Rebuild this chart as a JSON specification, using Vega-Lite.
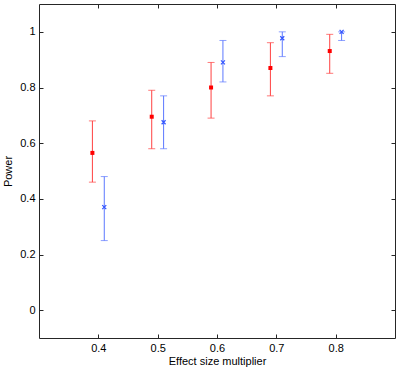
{
  "$schema": "https://vega.github.io/schema/vega-lite/v6.json",
  "width": 356,
  "height": 334,
  "autosize": {"type": "none"},
  "padding": {"left": 39, "top": 4, "right": 4, "bottom": 33},
  "background": "white",
  "config": {
    "view": {"stroke": "#262626", "strokeWidth": 1},
    "font": "Liberation Sans",
    "axis": {
      "grid": false,
      "domainColor": "#262626",
      "tickColor": "#262626",
      "tickSize": -4,
      "labelFont": "Liberation Sans",
      "titleFont": "Liberation Sans",
      "labelFontSize": 11,
      "titleFontSize": 11,
      "labelColor": "#000",
      "titleColor": "#000",
      "titleFontWeight": "normal"
    }
  },
  "data": {
    "values": [
      {"x": 0.39, "y": 0.565, "lo": 0.46, "hi": 0.68, "g": "a"},
      {"x": 0.41, "y": 0.37, "lo": 0.25, "hi": 0.48, "g": "b"},
      {"x": 0.49, "y": 0.695, "lo": 0.58, "hi": 0.79, "g": "a"},
      {"x": 0.51, "y": 0.675, "lo": 0.58, "hi": 0.77, "g": "b"},
      {"x": 0.59, "y": 0.80, "lo": 0.69, "hi": 0.89, "g": "a"},
      {"x": 0.61, "y": 0.89, "lo": 0.82, "hi": 0.969, "g": "b"},
      {"x": 0.69, "y": 0.87, "lo": 0.77, "hi": 0.961, "g": "a"},
      {"x": 0.71, "y": 0.977, "lo": 0.911, "hi": 1.0, "g": "b"},
      {"x": 0.79, "y": 0.931, "lo": 0.851, "hi": 0.991, "g": "a"},
      {"x": 0.81, "y": 1.0, "lo": 0.969, "hi": 1.0, "g": "b"}
    ]
  },
  "resolve": {"axis": {"x": "independent", "y": "independent"}},
  "layer": [
    {
      "layer": [
        {
          "mark": {"type": "rule", "strokeWidth": 1},
          "encoding": {
            "x": {"field": "x", "type": "quantitative", "scale": {"domain": [0.3, 0.9], "nice": false, "zero": false},
                  "axis": {"values": [0.4, 0.5, 0.6, 0.7, 0.8], "format": "~g", "title": "Effect size multiplier", "labelPadding": 8, "titlePadding": 2, "domain": false}},
            "y": {"field": "lo", "type": "quantitative", "scale": {"domain": [-0.1, 1.1], "nice": false, "zero": false},
                  "axis": {"values": [0, 0.2, 0.4, 0.6, 0.8, 1], "format": "~g", "title": "Power", "labelPadding": 8, "titlePadding": 6, "domain": false}},
            "y2": {"field": "hi"},
            "color": {"field": "g", "type": "nominal", "scale": {"domain": ["a", "b"], "range": ["#ff4040", "#5c78ff"]}, "legend": null}
          }
        },
        {
          "mark": {"type": "tick", "orient": "horizontal", "size": 7, "thickness": 1},
          "encoding": {
            "x": {"field": "x", "type": "quantitative"},
            "y": {"field": "lo", "type": "quantitative"},
            "color": {"field": "g", "type": "nominal", "legend": null}
          }
        },
        {
          "mark": {"type": "tick", "orient": "horizontal", "size": 7, "thickness": 1},
          "encoding": {
            "x": {"field": "x", "type": "quantitative"},
            "y": {"field": "hi", "type": "quantitative"},
            "color": {"field": "g", "type": "nominal", "legend": null}
          }
        },
        {
          "transform": [{"filter": "datum.g == 'a'"}],
          "mark": {"type": "point", "shape": "square", "filled": true, "size": 16, "color": "#ff0000", "opacity": 1},
          "encoding": {
            "x": {"field": "x", "type": "quantitative"},
            "y": {"field": "y", "type": "quantitative"}
          }
        },
        {
          "transform": [{"filter": "datum.g == 'b'"}],
          "mark": {"type": "point", "shape": "M-1,-1L1,1M-1,1L1,-1", "filled": false, "size": 16, "strokeWidth": 1.2, "color": "#3355ff", "opacity": 1},
          "encoding": {
            "x": {"field": "x", "type": "quantitative"},
            "y": {"field": "y", "type": "quantitative"}
          }
        }
      ]
    },
    {
      "mark": {"type": "point", "opacity": 0},
      "encoding": {
        "x": {"field": "x", "type": "quantitative", "axis": {"orient": "top", "values": [0.4, 0.5, 0.6, 0.7, 0.8], "labels": false, "title": null, "domain": false}},
        "y": {"field": "y", "type": "quantitative", "axis": {"orient": "right", "values": [0, 0.2, 0.4, 0.6, 0.8, 1], "labels": false, "title": null, "domain": false}}
      }
    }
  ]
}
